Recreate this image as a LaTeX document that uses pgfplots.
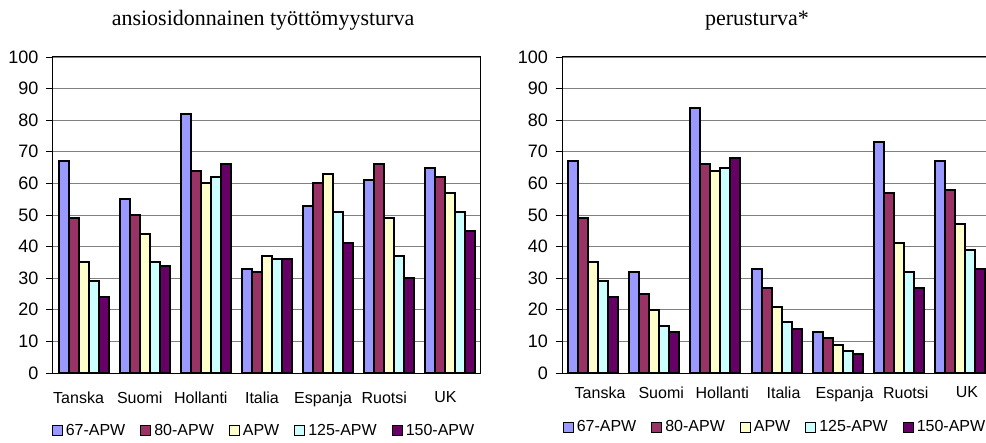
\documentclass[border=0pt]{standalone}
\usepackage{pgfplots}
\pgfplotsset{compat=1.18}
\usepackage{pgfplotstable}
\usepackage{fontspec}
\setmainfont{Liberation Sans}
\newfontfamily\seriffont{Liberation Serif}
\definecolor{cA}{HTML}{9999FF}
\definecolor{cB}{HTML}{993366}
\definecolor{cC}{HTML}{FFFFCC}
\definecolor{cD}{HTML}{CCFFFF}
\definecolor{cE}{HTML}{660066}

\pgfplotstableread{
x a b c d e
0 67 49 35 29 24
1 55 50 44 35 34
2 82 64 60 62 66
3 33 32 37 36 36
4 53 60 63 51 41
5 61 66 49 37 30
6 65 62 57 51 45
}\dataA

\pgfplotstableread{
x a b c d e
0 67 49 35 29 24
1 32 25 20 15 13
2 84 66 64 65 68
3 33 27 21 16 14
4 13 11 9 7 6
5 73 57 41 32 27
6 67 58 47 39 33
}\dataB

\pgfplotsset{
  mybars/.style={
    scale only axis, width=428bp, height=316bp,
    ybar=0pt, bar width=10bp,
    xmin=-0.5, xmax=6.5, ymin=0, ymax=100,
    xtick={0,...,6},
    xticklabels={Tanska,Suomi,Hollanti,Italia,Espanja,Ruotsi,UK},
    minor xtick={-0.5,0.5,...,6.5},
    ytick={0,10,...,100},
    xtick pos=bottom, ytick pos=left,
    ymajorgrids,
    major grid style={draw=black!50, line width=0.8bp},
    tick align=outside,
    major tick length=7bp, minor tick length=5bp,
    xtick style={draw=none},
    minor tick style={draw=black, line width=0.8bp},
    ytick style={draw=black, line width=0.8bp},
    axis line style={draw=black, line width=1bp},
    xticklabel style={font=\fontsize{16bp}{18bp}\selectfont},
    yticklabel style={font=\fontsize{18bp}{20bp}\selectfont, xshift=-4bp},
    /pgf/number format/assume math mode=true,
    legend columns=5,
    legend image code/.code={\draw[#1, draw=black, line width=1bp] (0bp,-5bp) rectangle (10bp,5bp);},
    legend style={draw=none, fill=none, font=\fontsize{16bp}{18bp}\selectfont,
      /tikz/every odd column/.append style={column sep=1bp},
      /tikz/every even column/.append style={column sep=13bp}},
  },
  barstyle/.style={fill=#1, draw=black, line width=2bp},
}

\begin{document}
\begin{tikzpicture}
\useasboundingbox (0,0) rectangle (986bp,443bp);
\begin{axis}[mybars, at={(53bp,70bp)}, anchor=south west,
  xticklabel style={xshift=-5bp, yshift=-8bp},
  legend style={at={(0.493,-0.1835)}, anchor=center}]
\addplot[barstyle=cA] table[x=x,y=a]{\dataA};
\addplot[barstyle=cB] table[x=x,y=b]{\dataA};
\addplot[barstyle=cC] table[x=x,y=c]{\dataA};
\addplot[barstyle=cD] table[x=x,y=d]{\dataA};
\addplot[barstyle=cE] table[x=x,y=e]{\dataA};
\legend{67-APW,80-APW,APW,125-APW,150-APW}
\end{axis}
\begin{axis}[mybars, at={(562.5bp,70bp)}, anchor=south west,
  xticklabel style={xshift=7bp, yshift=-3bp},
  legend style={at={(0.4965,-0.171)}, anchor=center}]
\addplot[barstyle=cA] table[x=x,y=a]{\dataB};
\addplot[barstyle=cB] table[x=x,y=b]{\dataB};
\addplot[barstyle=cC] table[x=x,y=c]{\dataB};
\addplot[barstyle=cD] table[x=x,y=d]{\dataB};
\addplot[barstyle=cE] table[x=x,y=e]{\dataB};
\legend{67-APW,80-APW,APW,125-APW,150-APW}
\end{axis}
\node[font=\seriffont\fontsize{22bp}{24bp}\selectfont, anchor=base] at (263bp,417bp) {ansiosidonnainen työttömyysturva};
\node[font=\seriffont\fontsize{22bp}{24bp}\selectfont, anchor=base] at (757bp,417bp) {perusturva*};
\end{tikzpicture}
\end{document}
